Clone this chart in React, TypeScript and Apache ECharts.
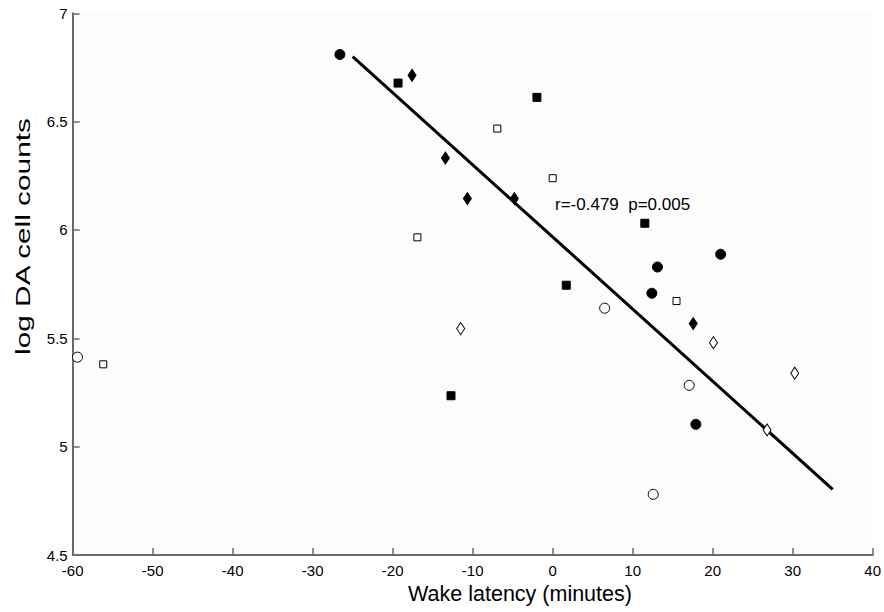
import React, { useEffect, useRef } from "react";
import * as echarts from "echarts";

const filledCircles: [number, number][] = [
  [-26.6, 6.81], [21.0, 5.888], [13.1, 5.829], [12.4, 5.708], [17.9, 5.103],
];
const openCircles: [number, number][] = [
  [-59.4, 5.413], [6.5, 5.639], [17.07, 5.283], [12.57, 4.78],
];
const filledSquares: [number, number][] = [
  [-19.33, 6.678], [-1.97, 6.612], [11.52, 6.031], [1.7, 5.745], [-12.71, 5.235],
];
const openSquares: [number, number][] = [
  [-6.92, 6.468], [0.0, 6.239], [-16.91, 5.966], [15.48, 5.672], [-56.18, 5.38],
];
const filledDiamonds: [number, number][] = [
  [-17.58, 6.714], [-13.41, 6.332], [-10.66, 6.145], [-4.79, 6.145], [17.57, 5.568],
];
const openDiamonds: [number, number][] = [
  [-11.5, 5.545], [20.1, 5.48], [30.26, 5.339], [26.8, 5.077],
];
const regressionLine: [number, number][] = [
  [-25, 6.8], [35, 4.803],
];
const annotation = "r=-0.479  p=0.005";
const xTitle = "Wake latency (minutes)";
const yTitle = "log DA cell counts";

const FONT = "Liberation Sans, Arial, Helvetica, sans-serif";

export default function App() {
  const ref = useRef<HTMLDivElement>(null);
  useEffect(() => {
    if (!ref.current) return;
    const chart = echarts.init(ref.current, undefined, { renderer: "svg" });
    const filled = { color: "#000", borderColor: "#000", borderWidth: 1, opacity: 1 };
    const open = { color: "#fff", borderColor: "#000", borderWidth: 1, opacity: 1 };
    const sc = (data: [number, number][], symbol: string, size: any, style: any) => ({
      type: "scatter",
      data,
      symbol,
      symbolSize: size,
      itemStyle: style,
      z: 3,
    });
    chart.setOption({
      animation: false,
      backgroundColor: "#ffffff",
      grid: {
        left: 72.7,
        right: 10.7,
        top: 13.3,
        bottom: 57,
        show: true,
        backgroundColor: "#fcfcfc",
        borderWidth: 0,
      },
      xAxis: {
        type: "value",
        min: -60,
        max: 40,
        interval: 10,
        splitLine: { show: false },
        axisLine: { onZero: false, lineStyle: { color: "#6a6a6a", width: 2 } },
        axisTick: { inside: true, length: 7, lineStyle: { color: "#6a6a6a", width: 1.5 } },
        axisLabel: { color: "#000", fontSize: 15, fontFamily: FONT, margin: 8 },
      },
      yAxis: {
        type: "value",
        min: 4.5,
        max: 7,
        interval: 0.5,
        splitLine: { show: false },
        axisLine: { onZero: false, lineStyle: { color: "#6a6a6a", width: 2 } },
        axisTick: { inside: true, length: 7, lineStyle: { color: "#6a6a6a", width: 1.5 } },
        axisLabel: { color: "#000", fontSize: 15, fontFamily: FONT, margin: 5 },
      },
      series: [
        {
          type: "line",
          data: regressionLine,
          symbol: "none",
          lineStyle: { color: "#000", width: 3 },
          z: 2,
        },
        sc(filledCircles, "circle", 10, filled),
        sc(openCircles, "circle", 10, open),
        sc(filledSquares, "rect", 8, filled),
        sc(openSquares, "rect", 7, open),
        sc(filledDiamonds, "diamond", [8, 12], filled),
        sc(openDiamonds, "diamond", [8, 12], open),
      ],
      graphic: [
        {
          type: "text",
          left: 555,
          top: 196,
          style: { text: annotation, fontSize: 17, fontFamily: FONT, fill: "#000" },
        },
        {
          type: "text",
          x: 520,
          y: 594,
          style: {
            text: xTitle,
            fontSize: 21.5,
            fontFamily: FONT,
            fill: "#000",
            align: "center",
            verticalAlign: "middle",
          },
        },
        {
          type: "text",
          x: 23,
          y: 236.5,
          rotation: Math.PI / 2,
          scaleX: 1.42,
          style: {
            text: yTitle,
            fontSize: 21,
            fontFamily: FONT,
            fill: "#000",
            align: "center",
            verticalAlign: "middle",
          },
        },
      ],
    });
    return () => chart.dispose();
  }, []);
  return (
    <div
      ref={ref}
      style={{ position: "absolute", left: 0, top: 0, width: 884, height: 612 }}
    />
  );
}
